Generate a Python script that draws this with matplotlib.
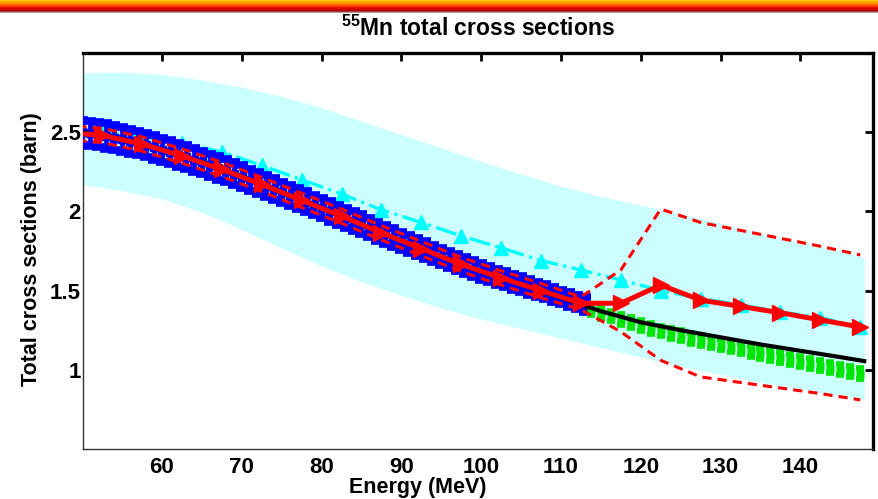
import numpy as np
import matplotlib
matplotlib.use('Agg')
import matplotlib.pyplot as plt

plt.rcParams['font.family'] = ['Liberation Sans', 'DejaVu Sans']
plt.rcParams['mathtext.fontset'] = 'custom'
plt.rcParams['mathtext.rm'] = 'Liberation Sans:bold'
plt.rcParams['mathtext.bf'] = 'Liberation Sans:bold'

# ---------------- data ----------------
band_E = [50, 55, 60, 65, 70, 75, 80, 85, 90, 95, 100, 105, 110, 115, 120, 125, 130, 135, 140, 145, 148]
band_upper = [2.875, 2.88, 2.865, 2.83, 2.785, 2.725, 2.655, 2.57, 2.485, 2.40, 2.315, 2.235, 2.16, 2.095, 2.04,
              1.985, 1.925, 1.865, 1.805, 1.75, 1.71]
band_lower = [2.17, 2.13, 2.08, 1.995, 1.885, 1.77, 1.655, 1.555, 1.47, 1.39, 1.32, 1.26, 1.20, 1.14, 1.08,
              1.02, 0.97, 0.92, 0.88, 0.835, 0.81]

model_E = [47.5, 52.5, 57.5, 62.5, 67.5, 72.5, 77.5, 82.5, 87.5, 92.5, 97.5, 102.5, 107.5,
           112.5, 117.5, 122.5, 127.5, 132.5, 137.5, 142.5, 147.5]
cyan_vals = [2.52, 2.50, 2.47, 2.43, 2.375, 2.29, 2.20, 2.11, 2.01, 1.93, 1.845, 1.77, 1.69,
             1.63, 1.567, 1.50, 1.45, 1.41, 1.365, 1.33, 1.27]
red_vals = [2.50, 2.48, 2.425, 2.35, 2.265, 2.17, 2.07, 1.97, 1.865, 1.765, 1.665, 1.58, 1.50,
            1.42, 1.42, 1.535, 1.44, 1.40, 1.36, 1.315, 1.27]
red_upper = [2.545, 2.525, 2.47, 2.395, 2.31, 2.215, 2.115, 2.015, 1.91, 1.81, 1.71, 1.625, 1.545,
             1.46, 1.63, 2.015, 1.93, 1.88, 1.83, 1.78, 1.725]
red_lower = [2.455, 2.435, 2.38, 2.305, 2.22, 2.125, 2.025, 1.925, 1.82, 1.72, 1.62, 1.535, 1.455,
             1.38, 1.24, 1.06, 0.955, 0.92, 0.885, 0.85, 0.81]

black_E = [50, 55, 60, 65, 70, 75, 80, 85, 90, 95, 100, 105, 110, 115, 120, 125, 130, 135, 140, 145, 148]
black_vals = [2.50, 2.455, 2.39, 2.31, 2.22, 2.12, 2.02, 1.92, 1.815, 1.715, 1.62, 1.54, 1.455,
              1.37, 1.30, 1.25, 1.205, 1.16, 1.12, 1.08, 1.055]

blue_E = list(range(50, 114))
blue_vals = [2.500, 2.492, 2.484, 2.476, 2.466, 2.455, 2.443, 2.431, 2.418, 2.404,
             2.390, 2.374, 2.358, 2.342, 2.326, 2.310, 2.292, 2.274, 2.256, 2.238,
             2.220, 2.200, 2.180, 2.160, 2.140, 2.120, 2.100, 2.080, 2.060, 2.040,
             2.020, 2.000, 1.980, 1.960, 1.940, 1.920, 1.898, 1.876, 1.855, 1.835,
             1.815, 1.795, 1.775, 1.755, 1.735, 1.715, 1.695, 1.675, 1.656, 1.638,
             1.620, 1.604, 1.588, 1.572, 1.556, 1.540, 1.524, 1.508, 1.492, 1.476,
             1.460, 1.444, 1.428, 1.412]
blue_relerr = 0.032

green_E = [113.75, 115, 116.25, 117.5, 118.75, 120, 121.25, 122.5, 123.75, 125, 126.25, 127.5,
           128.75, 130, 131.25, 132.5, 133.75, 135, 136.25, 137.5, 138.75, 140, 141.25, 142.5,
           143.75, 145, 146.25, 147.5]
green_vals = [1.38, 1.357, 1.339, 1.317, 1.299, 1.281, 1.263, 1.245, 1.230, 1.215, 1.200, 1.186,
              1.172, 1.159, 1.145, 1.131, 1.117, 1.104, 1.091, 1.078, 1.065, 1.052, 1.039, 1.026,
              1.014, 1.001, 0.988, 0.976]
green_err = 0.034

x_ticks = [60, 70, 80, 90, 100, 110, 120, 130, 140]
y_ticks = [1, 1.5, 2, 2.5]
y_ticklabels = ['1', '1.5', '2', '2.5']

# ---------------- figure ----------------
W, H = 879, 499
fig = plt.figure(figsize=(W / 100, H / 100), dpi=100)

# top gradient banner
bar = fig.add_axes([0, 1 - 13 / H, 1, 13 / H])
grad = np.array([[255, 200, 0], [255, 180, 0], [255, 160, 0], [255, 135, 0], [255, 110, 0],
                 [252, 80, 0], [245, 50, 0], [235, 20, 0], [220, 0, 0], [200, 0, 0],
                 [180, 0, 0], [160, 60, 60], [190, 150, 150]], dtype=float) / 255
bar.imshow(grad[:, None, :], aspect='auto', extent=[0, 1, 0, 1])
bar.set_axis_off()

ax = fig.add_axes([83 / W, 1 - 449 / H, (873 - 83) / W, (449 - 53) / H])

ax.fill_between(band_E, band_lower, band_upper, color='#CCFFFF', lw=0, zorder=1)
ax.plot(model_E, cyan_vals, color='#00FFFF', ls='-.', lw=2.4, marker='^', ms=10,
        mfc='#00FFFF', mec='#00FFFF', zorder=2)

blue_err = blue_relerr * np.array(blue_vals)
ax.errorbar(blue_E, blue_vals, yerr=blue_err, fmt='s', color='#0000FF', ms=6, elinewidth=3.4,
            capsize=4, capthick=5.5, zorder=3)
ax.errorbar(green_E, green_vals, yerr=green_err, fmt='s', mfc='#00E600', mec='none',
            ecolor='#00E600', ms=5.8, elinewidth=3.5, capsize=2.8, capthick=4, zorder=3)

ax.plot(black_E, black_vals, color='black', lw=3, zorder=4)
ax.plot(model_E, red_upper, color='#FF0000', ls=(0, (3, 2)), lw=2.2, zorder=5)
ax.plot(model_E, red_lower, color='#FF0000', ls=(0, (3, 2)), lw=2.2, zorder=5)
ax.plot(model_E, red_vals, color='#FF0000', lw=3.6, marker='>', ms=12, mfc='#FF0000',
        mec='#FF0000', zorder=6)

ax.set_xlim(50.1, 149.1)
ax.set_ylim(0.5, 3.0)
ax.set_xticks(x_ticks)
ax.set_xticklabels([str(t) for t in x_ticks])
ax.set_yticks(y_ticks)
ax.set_yticklabels(y_ticklabels)
ax.tick_params(axis='both', which='both', direction='in', top=True, right=True,
               bottom=False, left=False, length=6, width=2, labelsize=16)
ax.tick_params(axis='x', pad=6)
ax.tick_params(axis='y', pad=1.5)
for lab in ax.get_xticklabels() + ax.get_yticklabels():
    lab.set_fontweight('bold')

for s in ['top', 'right']:
    ax.spines[s].set_linewidth(2.4)
for s in ['left', 'bottom']:
    ax.spines[s].set_linewidth(1.0)
    ax.spines[s].set_color('#333333')

fig.text(478 / W, 1 - 36 / H, r'$^{\mathbf{55}}$Mn total cross sections', ha='center',
         va='baseline', fontsize=16.5, fontweight='bold')
fig.text(418 / W, 1 - 487 / H, 'Energy (MeV)', ha='center', va='center', fontsize=15.5,
         fontweight='bold')
fig.text(32 / W, 250 / H, 'Total cross sections (barn)', ha='center', va='center',
         rotation=90, fontsize=15.5, fontweight='bold')

fig.savefig('out.png', dpi=100)
